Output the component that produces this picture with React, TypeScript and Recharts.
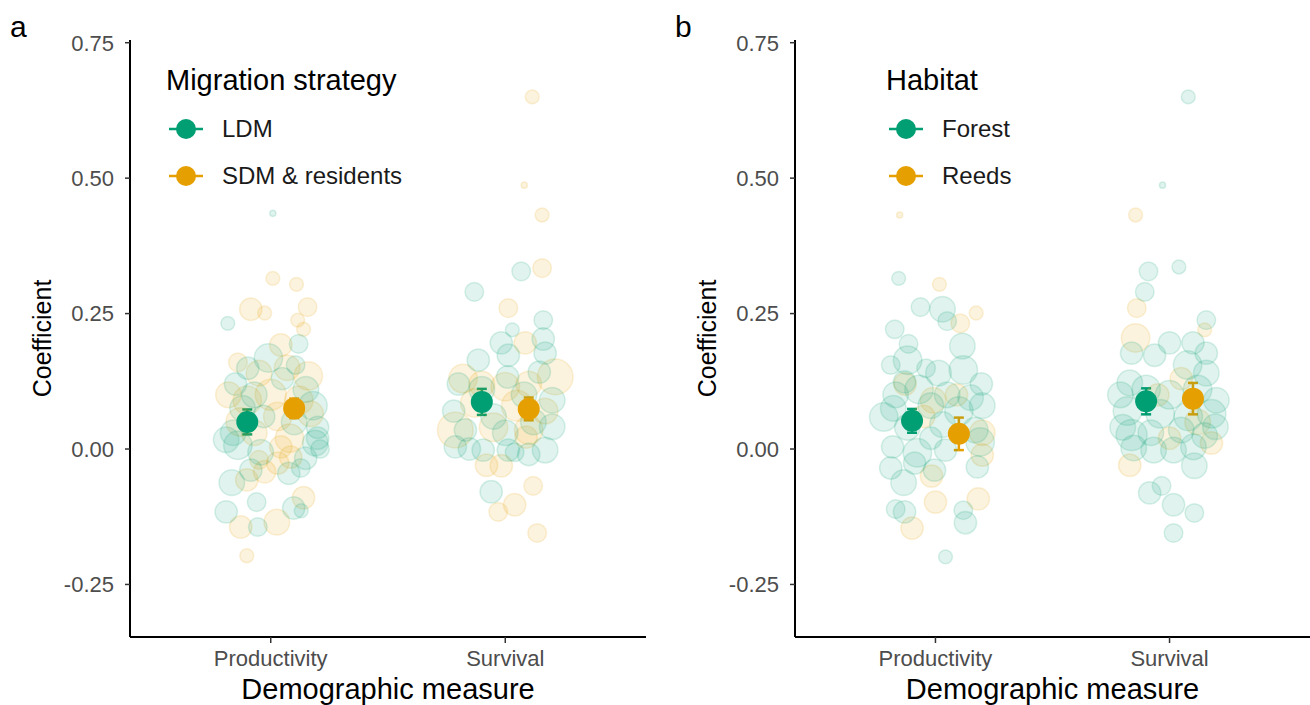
import React from "react"
import { ScatterChart, Scatter, XAxis, YAxis, ZAxis, ErrorBar } from "recharts"

const GREEN = "#009E73"
const ORANGE = "#E69F00"
const FONT = "'Liberation Sans', Arial, sans-serif"

const categories = ["Productivity", "Survival"]
const yTicks = [-0.25, 0, 0.25, 0.5, 0.75]

// [jittered x position, coefficient, weight]
const ldmPoints = [
  [0.817, 0.232, 2], [1.119, 0.194, 3], [0.99, 0.168, 6], [1.106, 0.155, 3], [0.902, 0.149, 4], [1.009, 0.435, 1],
  [0.85, 0.12, 4], [0.93, 0.1, 5], [1.05, 0.13, 4], [1.15, 0.11, 5], [1.18, 0.08, 6], [0.88, 0.075, 5],
  [0.97, 0.06, 4], [1.1, 0.05, 5], [1.2, 0.04, 4], [0.84, 0.03, 5], [0.81, 0.017, 5], [0.86, 0.007, 6],
  [0.957, -0.006, 5], [1.149, -0.017, 4], [1.19, 0.011, 5], [0.915, -0.039, 4], [1.077, -0.045, 4],
  [1.128, -0.035, 3], [0.834, -0.062, 5], [0.94, -0.098, 3], [0.81, -0.116, 4], [1.098, -0.109, 4],
  [1.13, -0.114, 2], [0.945, -0.144, 3], [1.21, 0.0, 3], [1.2, 0.02, 4],
  [2.068, 0.328, 3], [1.868, 0.29, 3], [2.162, 0.238, 3], [2.03, 0.22, 2], [1.983, 0.196, 4], [2.162, 0.203, 4],
  [2.013, 0.173, 4], [1.885, 0.164, 4], [2.17, 0.177, 4], [2.145, 0.142, 4], [2.01, 0.133, 4],
  [1.8, 0.12, 4], [1.9, 0.11, 5], [2.08, 0.1, 5], [2.2, 0.09, 5], [1.78, 0.07, 4], [1.95, 0.06, 5],
  [2.12, 0.05, 5], [1.83, 0.035, 4], [2.0, 0.03, 5], [2.2, 0.041, 5], [1.787, 0.004, 4], [1.847, 0.0, 4],
  [1.906, -0.002, 4], [2.013, -0.002, 4], [2.04, -0.006, 3], [2.17, -0.002, 5], [1.94, -0.079, 4], [2.1, -0.01, 4],
]

const sdmPoints = [
  [1.009, 0.315, 2], [1.11, 0.304, 2], [0.915, 0.258, 4], [0.974, 0.251, 2], [1.157, 0.262, 3], [1.115, 0.238, 2],
  [1.14, 0.221, 2], [1.043, 0.192, 4], [0.86, 0.16, 3], [0.95, 0.14, 5], [1.07, 0.15, 5], [1.16, 0.135, 6],
  [0.82, 0.1, 5], [0.9, 0.09, 6], [1.0, 0.1, 7], [1.12, 0.09, 6], [0.87, 0.05, 6], [1.03, 0.06, 6],
  [1.17, 0.065, 5], [0.93, 0.03, 5], [1.08, 0.02, 6], [1.043, 0.004, 4], [1.085, -0.015, 4], [1.03, -0.026, 4],
  [0.974, -0.042, 4], [0.898, -0.057, 4], [1.14, -0.09, 4], [0.872, -0.144, 4], [1.026, -0.135, 5],
  [0.898, -0.197, 2], [0.95, -0.02, 3],
  [2.157, 0.334, 3], [2.013, 0.26, 3], [2.085, 0.196, 4], [2.213, 0.133, 9], [2.115, 0.65, 2], [2.081, 0.487, 1],
  [2.157, 0.432, 2], [1.82, 0.13, 6], [1.9, 0.12, 5], [2.0, 0.115, 6], [2.1, 0.12, 5], [1.87, 0.085, 6],
  [2.05, 0.08, 7], [2.17, 0.07, 5], [1.787, 0.035, 9], [1.95, 0.04, 6], [2.1, 0.035, 6], [2.089, 0.022, 4],
  [1.92, -0.03, 4], [1.983, -0.031, 4], [2.119, -0.068, 3], [2.04, -0.103, 4], [1.97, -0.116, 3], [2.136, -0.155, 3],
]

const forestPoints = [
  [0.843, 0.315, 2], [0.936, 0.262, 3], [1.03, 0.258, 5], [1.05, 0.236, 3], [0.826, 0.221, 3], [0.885, 0.194, 3],
  [1.115, 0.19, 5], [0.881, 0.164, 6], [0.809, 0.155, 3], [1.119, 0.146, 6], [1.013, 0.14, 5], [0.96, 0.149, 3],
  [1.196, 0.12, 4], [0.868, 0.124, 4], [0.83, 0.1, 5], [0.93, 0.11, 6], [1.05, 0.1, 5], [1.15, 0.095, 5],
  [0.82, 0.075, 5], [0.98, 0.08, 5], [1.1, 0.07, 6], [1.2, 0.08, 5], [0.88, 0.04, 5], [1.03, 0.045, 5],
  [1.17, 0.035, 5], [0.779, 0.059, 6], [0.817, 0.004, 4], [0.923, -0.007, 6], [1.043, -0.002, 4],
  [1.191, 0.013, 6], [1.179, -0.033, 4], [0.809, -0.035, 4], [0.911, -0.026, 4], [0.996, -0.039, 4],
  [0.864, -0.062, 5], [0.83, -0.111, 3], [0.868, -0.116, 4], [1.119, -0.113, 3], [1.128, -0.136, 4],
  [1.043, -0.199, 2], [0.98, 0.02, 4],
  [1.91, 0.328, 3], [2.04, 0.336, 2], [1.894, 0.29, 3], [2.157, 0.238, 3], [1.838, 0.177, 4], [2.0, 0.196, 4],
  [2.1, 0.196, 4], [2.157, 0.177, 4], [1.936, 0.173, 4], [2.077, 0.155, 6], [2.157, 0.14, 5], [1.83, 0.122, 5],
  [2.08, 0.65, 2], [1.97, 0.487, 1], [1.79, 0.1, 5], [1.9, 0.11, 6], [2.0, 0.1, 6], [2.12, 0.11, 6],
  [2.2, 0.09, 5], [1.82, 0.07, 6], [1.96, 0.065, 6], [2.08, 0.06, 6], [2.18, 0.065, 6], [1.8, 0.04, 5],
  [1.92, 0.03, 5], [2.05, 0.035, 5], [2.15, 0.025, 5], [1.838, 0.026, 7], [1.847, 0.002, 5], [1.932, -0.002, 5],
  [2.017, -0.002, 5], [2.102, 0.004, 5], [2.196, 0.041, 5], [2.106, -0.031, 5], [1.966, -0.068, 3],
  [1.915, -0.081, 4], [2.017, -0.103, 4], [2.106, -0.118, 3], [2.017, -0.155, 3],
]

const reedsPoints = [
  [0.847, 0.432, 1], [1.017, 0.304, 2], [1.106, 0.232, 3], [1.174, 0.251, 2], [0.87, 0.12, 4], [0.99, 0.09, 5],
  [1.09, 0.1, 4], [1.2, 0.03, 5], [0.95, 0.06, 4], [1.2, -0.011, 4], [0.983, -0.05, 4], [1.0, -0.098, 4],
  [1.183, -0.092, 4], [0.9, -0.146, 4],
  [1.855, 0.432, 2], [1.86, 0.26, 3], [2.15, 0.22, 2], [1.855, 0.205, 6], [1.95, 0.1, 4], [2.05, 0.13, 4],
  [2.12, 0.05, 5], [2.179, 0.011, 4], [1.83, -0.03, 4], [2.0, 0.02, 4],
]

// [x position, mean coefficient, error]
const ldmMeans = [[0.9, 0.05, 0.023], [1.9, 0.087, 0.024]]
const sdmMeans = [[1.1, 0.075, 0.018], [2.1, 0.074, 0.021]]
const forestMeans = [[0.9, 0.052, 0.022], [1.9, 0.088, 0.024]]
const reedsMeans = [[1.1, 0.028, 0.03], [2.1, 0.093, 0.029]]

const toRows = (pts: number[][]) => pts.map(([x, y, w]) => ({ x, y, w }))
const toMeanRows = (pts: number[][]) => pts.map(([x, y, err]) => ({ x, y, err }))

function LegendBox({ title, names, left }: { title: string; names: string[]; left: number }) {
  const colors = [GREEN, ORANGE]
  return (
    <div style={{ position: "absolute", left, top: 60, background: "#fff", padding: "4px 10px 6px 8px", fontFamily: FONT }}>
      <div style={{ fontSize: 29, color: "#000", marginBottom: 8, lineHeight: "33px" }}>{title}</div>
      {names.map((n, i) => (
        <div key={n} style={{ display: "flex", alignItems: "center", height: 47 }}>
          <svg width={40} height={24} style={{ marginRight: 16 }}>
            <line x1={3} y1={12} x2={37} y2={12} stroke={colors[i]} strokeWidth={2.5} />
            <circle cx={20} cy={12} r={10} fill={colors[i]} />
          </svg>
          <span style={{ fontSize: 24, color: "#1a1a1a" }}>{n}</span>
        </div>
      ))}
    </div>
  )
}

function Panel(props: {
  letter: string
  left: number
  width: number
  yAxisWidth: number
  rightMargin: number
  title: string
  names: string[]
  legendLeft: number
  greenPts: number[][]
  orangePts: number[][]
  greenMeans: number[][]
  orangeMeans: number[][]
}) {
  const meanShape = (color: string) => (p: any) => <circle cx={p.cx} cy={p.cy} r={11} fill={color} />
  return (
    <div style={{ position: "absolute", left: props.left, top: 0, width: props.width, height: 705 }}>
      <ScatterChart width={props.width} height={705} margin={{ top: 40, right: props.rightMargin, left: 0, bottom: 6 }}>
        <XAxis
          type="number"
          dataKey="x"
          domain={[0.4, 2.6]}
          ticks={[1, 2]}
          allowDataOverflow
          tickFormatter={(v: number) => categories[v - 1]}
          height={62}
          axisLine={{ stroke: "#000", strokeWidth: 2 }}
          tickLine={{ stroke: "#333", strokeWidth: 1.5 }}
          tickSize={6}
          tickMargin={7}
          tick={{ fill: "#4d4d4d", fontSize: 22 }}
          label={{ value: "Demographic measure", position: "insideBottom", offset: 0, style: { fontSize: 29, fill: "#000" } }}
        />
        <YAxis
          type="number"
          dataKey="y"
          domain={[-0.347, 0.755]}
          ticks={yTicks}
          allowDataOverflow
          tickFormatter={(v: number) => v.toFixed(2)}
          width={props.yAxisWidth}
          axisLine={{ stroke: "#000", strokeWidth: 2 }}
          tickLine={{ stroke: "#333", strokeWidth: 1.5 }}
          tickSize={5}
          tickMargin={11}
          tick={{ fill: "#4d4d4d", fontSize: 22 }}
          label={{ value: "Coefficient", angle: -90, position: "insideLeft", offset: props.yAxisWidth - 88, style: { fontSize: 25, fill: "#000", textAnchor: "middle" } }}
        />
        <ZAxis type="number" dataKey="w" domain={[1, 9]} range={[30, 1000]} />
        <Scatter data={toRows(props.orangePts)} fill={ORANGE} fillOpacity={0.13} stroke={ORANGE} strokeOpacity={0.15} strokeWidth={1.5} isAnimationActive={false} />
        <Scatter data={toRows(props.greenPts)} fill={GREEN} fillOpacity={0.12} stroke={GREEN} strokeOpacity={0.15} strokeWidth={1.5} isAnimationActive={false} />
        <Scatter data={toMeanRows(props.greenMeans)} shape={meanShape(GREEN)} isAnimationActive={false}>
          <ErrorBar dataKey="err" direction="y" width={5} stroke={GREEN} strokeWidth={2.5} />
        </Scatter>
        <Scatter data={toMeanRows(props.orangeMeans)} shape={meanShape(ORANGE)} isAnimationActive={false}>
          <ErrorBar dataKey="err" direction="y" width={5} stroke={ORANGE} strokeWidth={2.5} />
        </Scatter>
      </ScatterChart>
      <div style={{ position: "absolute", left: props.yAxisWidth - 120, top: 10, fontSize: 30, fontFamily: FONT, color: "#000" }}>
        {props.letter}
      </div>
      <LegendBox title={props.title} names={props.names} left={props.legendLeft} />
    </div>
  )
}

export default function App() {
  return (
    <div style={{ position: "absolute", left: 0, top: 0, width: 1310, height: 705, background: "#fff", fontFamily: FONT, overflow: "hidden" }}>
      <Panel
        letter="a"
        left={0}
        width={660}
        yAxisWidth={130}
        rightMargin={14}
        title="Migration strategy"
        names={["LDM", "SDM & residents"]}
        legendLeft={158}
        greenPts={ldmPoints}
        orangePts={sdmPoints}
        greenMeans={ldmMeans}
        orangeMeans={sdmMeans}
      />
      <Panel
        letter="b"
        left={655}
        width={655}
        yAxisWidth={140}
        rightMargin={0}
        title="Habitat"
        names={["Forest", "Reeds"]}
        legendLeft={223}
        greenPts={forestPoints}
        orangePts={reedsPoints}
        greenMeans={forestMeans}
        orangeMeans={reedsMeans}
      />
    </div>
  )
}
